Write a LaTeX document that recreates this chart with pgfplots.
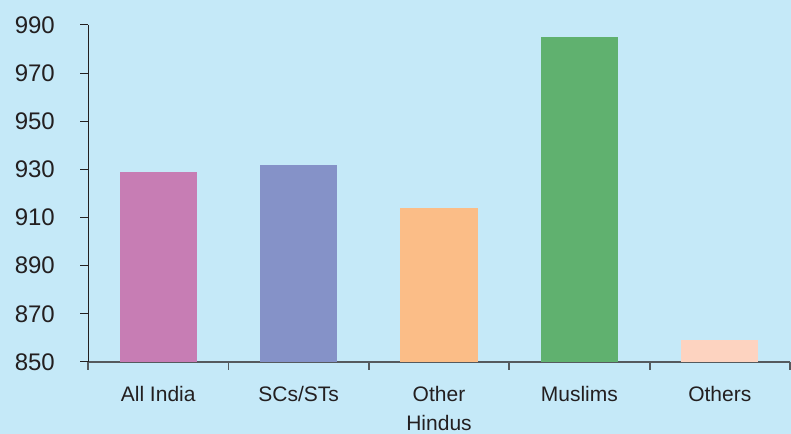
\documentclass[border=0pt]{standalone}
\usepackage{fontspec}
\setmainfont{Liberation Sans}
\usepackage{pgfplots}
\pgfplotsset{compat=1.18}
\usetikzlibrary{backgrounds}
\definecolor{bg}{HTML}{C5E9F8}
\definecolor{c1}{HTML}{C77DB4}
\definecolor{c2}{HTML}{8592C8}
\definecolor{c3}{HTML}{FBBD87}
\definecolor{c4}{HTML}{60B16F}
\definecolor{c5}{HTML}{FDD3C0}
\definecolor{txt}{HTML}{231F20}
\definecolor{axg}{HTML}{555A5E}
\begin{document}
\begin{tikzpicture}
\begin{axis}[
  scale only axis, width=702pt, height=337pt,
  xmin=0, xmax=5, ymin=850, ymax=990,
  ytick={850,870,...,990},
  xtick={0,1,2,3,4,5},
  xticklabels={All India,SCs/STs,Other\\Hindus,Muslims,Others},
  x tick label as interval,
  axis x line=bottom, axis y line=left,
  axis line style={-},
  x axis line style={axg, line width=2pt},
  y axis line style={txt, line width=1pt},
  tick align=outside,
  major tick length=8pt,
  xtick style={axg, line width=1.8pt},
  ytick style={txt, line width=1pt},
  /pgf/number format/assume math mode=true,
  yticklabel style={font=\fontsize{24}{28}\selectfont, text=txt, anchor=east, inner sep=0pt, xshift=-25pt},
  xticklabel style={font=\fontsize{21}{29.5}\selectfont, text=txt, align=center, anchor=north, inner sep=0pt, yshift=-16pt},
  ybar,
  bar width=0.55,
  clip=false,
]
\addplot[fill=c1, draw=none, bar shift=0pt] coordinates {(0.5,929)};
\addplot[fill=c2, draw=none, bar shift=0pt] coordinates {(1.5,932)};
\addplot[fill=c3, draw=none, bar shift=0pt] coordinates {(2.5,914)};
\addplot[fill=c4, draw=none, bar shift=0pt] coordinates {(3.5,985)};
\addplot[fill=c5, draw=none, bar shift=0pt] coordinates {(4.5,859)};
\coordinate (bl) at (rel axis cs:-0.12536,-0.21365);
\coordinate (tr) at (rel axis cs:1.00142,1.07418);
\end{axis}
\pgfresetboundingbox
\path (bl) rectangle (tr);
\begin{pgfonlayer}{background}
\fill[bg] (bl) rectangle (tr);
\end{pgfonlayer}
\end{tikzpicture}
\end{document}
